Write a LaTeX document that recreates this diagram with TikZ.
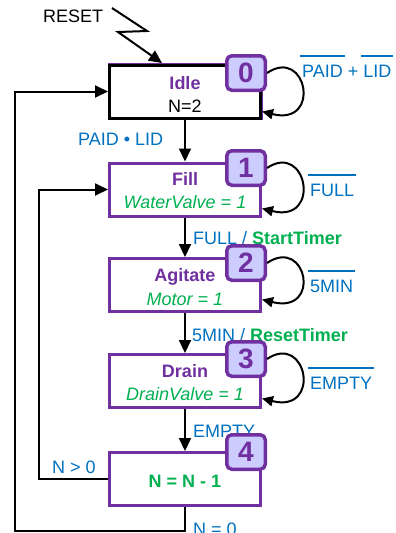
\documentclass[tikz,border=0pt]{standalone}
\usepackage{fontspec}
\setmainfont{Liberation Sans}
\usetikzlibrary{arrows.meta}
\definecolor{pur}{HTML}{7030A0}
\definecolor{lav}{HTML}{CCCCFF}
\definecolor{blu}{HTML}{0070C0}
\definecolor{grn}{HTML}{00B050}
\newcommand\myovl[1]{\setbox0\hbox{#1}\rlap{\kern-2pt\raisebox{20.5pt}{\rule{\dimexpr\wd0+4pt\relax}{2pt}}}\box0\relax}
\begin{document}
\begin{tikzpicture}[x=1pt,y=-1pt,
 every node/.style={font=\fontsize{18}{20}\selectfont},
 statebox/.style={draw=pur,line width=3pt,minimum width=151pt,minimum height=53pt,inner sep=0,fill=white},
 badge/.style={draw=pur,fill=lav,line width=3.5pt,rounded corners=5pt,minimum width=38.5pt,minimum height=34.5pt,inner sep=0,text=pur,font=\fontsize{28}{30}\selectfont\bfseries},
 lbl/.style={text=blu,anchor=base west,inner sep=0},
 intext/.style={anchor=base,inner sep=0},
 arr/.style={line width=2pt,-{Triangle[length=13pt,width=12pt]}},
 selfloop/.style={line width=2pt,-{Triangle[length=11pt,width=10pt]}}
]
\useasboundingbox (0,0) rectangle (396,533);

% state boxes
\node[statebox,draw=pur,line width=4pt] (idleo) at (185,91.5) {};
\node[statebox,draw=black] (idle) at (185,91.5) {};
\node[statebox] (fill) at (185,189.5) {};
\node[statebox] (agit) at (185,285) {};
\node[statebox] (drain) at (185,381) {};
\node[statebox] (nbox) at (185,479) {};

% texts inside boxes
\node[intext,text=pur,font=\fontsize{18}{20}\selectfont\bfseries] (idleA) at (185,89) {Idle};
\node[intext] (idleB) at (185,112) {N=2};
\node[intext,text=pur,font=\fontsize{18}{20}\selectfont\bfseries] (fillA) at (185,185) {Fill};
\node[intext,text=grn,font=\fontsize{18}{20}\selectfont\itshape] (fillB) at (185,208) {WaterValve = 1};
\node[intext,text=pur,font=\fontsize{18}{20}\selectfont\bfseries] (agitA) at (185,281) {Agitate};
\node[intext,text=grn,font=\fontsize{18}{20}\selectfont\itshape] (agitB) at (185,305) {Motor = 1};
\node[intext,text=pur,font=\fontsize{18}{20}\selectfont\bfseries] (drainA) at (185,377) {Drain};
\node[intext,text=grn,font=\fontsize{18}{20}\selectfont\itshape] (drainB) at (185,400) {DrainValve = 1};
\node[intext,text=grn,font=\fontsize{18}{20}\selectfont\bfseries] (nboxA) at (185,487) {N = N - 1};

% coordinates
\coordinate (rs) at (112,8);
\coordinate (rz1) at (147,31);
\coordinate (rz2) at (118,32);
\coordinate (rend) at (162,63);
\coordinate (bl) at (15,531);

% main connectors
\draw[arr] (rs) -- (rz1) -- (rz2) -- (rend);
\draw[arr] (idle.south) -- (fill.north);
\draw[arr] (fill.south) -- (agit.north);
\draw[arr] (agit.south) -- (drain.north);
\draw[arr] (drain.south) -- (nbox.north);
\draw[arr] (nbox.west) -- ++(-69,0) |- (fill.west);
\draw[arr] (nbox.south) |- (bl) |- (idle.west);

% labels
\node[anchor=base west,inner sep=0] (lreset) at (43,22) {RESET};
\node[lbl] (l0) at (302,77) {\myovl{PAID} + \myovl{LID}};
\node[lbl] (l01) at (78,145) {PAID • LID};
\node[lbl] (l1) at (310,196) {\myovl{FULL}};
\node[lbl] (l12) at (193,244) {FULL / \textcolor{grn}{\bfseries StartTimer}};
\node[lbl] (l2) at (310,292) {\myovl{5MIN}};
\node[lbl] (l23) at (192,341) {5MIN / \textcolor{grn}{\bfseries ResetTimer}};
\node[lbl] (l3) at (310,389) {\myovl{EMPTY}};
\node[lbl] (l34) at (193,437) {EMPTY};
\node[lbl] (l41) at (52,473) {N > 0};
\node[lbl] (l40) at (193,535) {N = 0};

% badges
\node[badge] (b0) at (246,73) {0};
\node[badge] (b1) at (246,168) {1};
\node[badge] (b2) at (246,263) {2};
\node[badge] (b3) at (246,359) {3};
\node[badge] (b4) at (246,452) {4};

% self loops
\draw[selfloop] (b0.east) .. controls +(40,-27) and +(60,15) .. ([yshift=8pt]idle.south east);
\draw[selfloop] (b1.east) .. controls +(40,-27) and +(60,15) .. ([yshift=9pt]fill.south east);
\draw[selfloop] (b2.east) .. controls +(40,-27) and +(60,15) .. ([yshift=13.5pt]agit.south east);
\draw[selfloop] (b3.east) .. controls +(40,-27) and +(60,15) .. ([yshift=10.5pt]drain.south east);
\end{tikzpicture}
\end{document}
